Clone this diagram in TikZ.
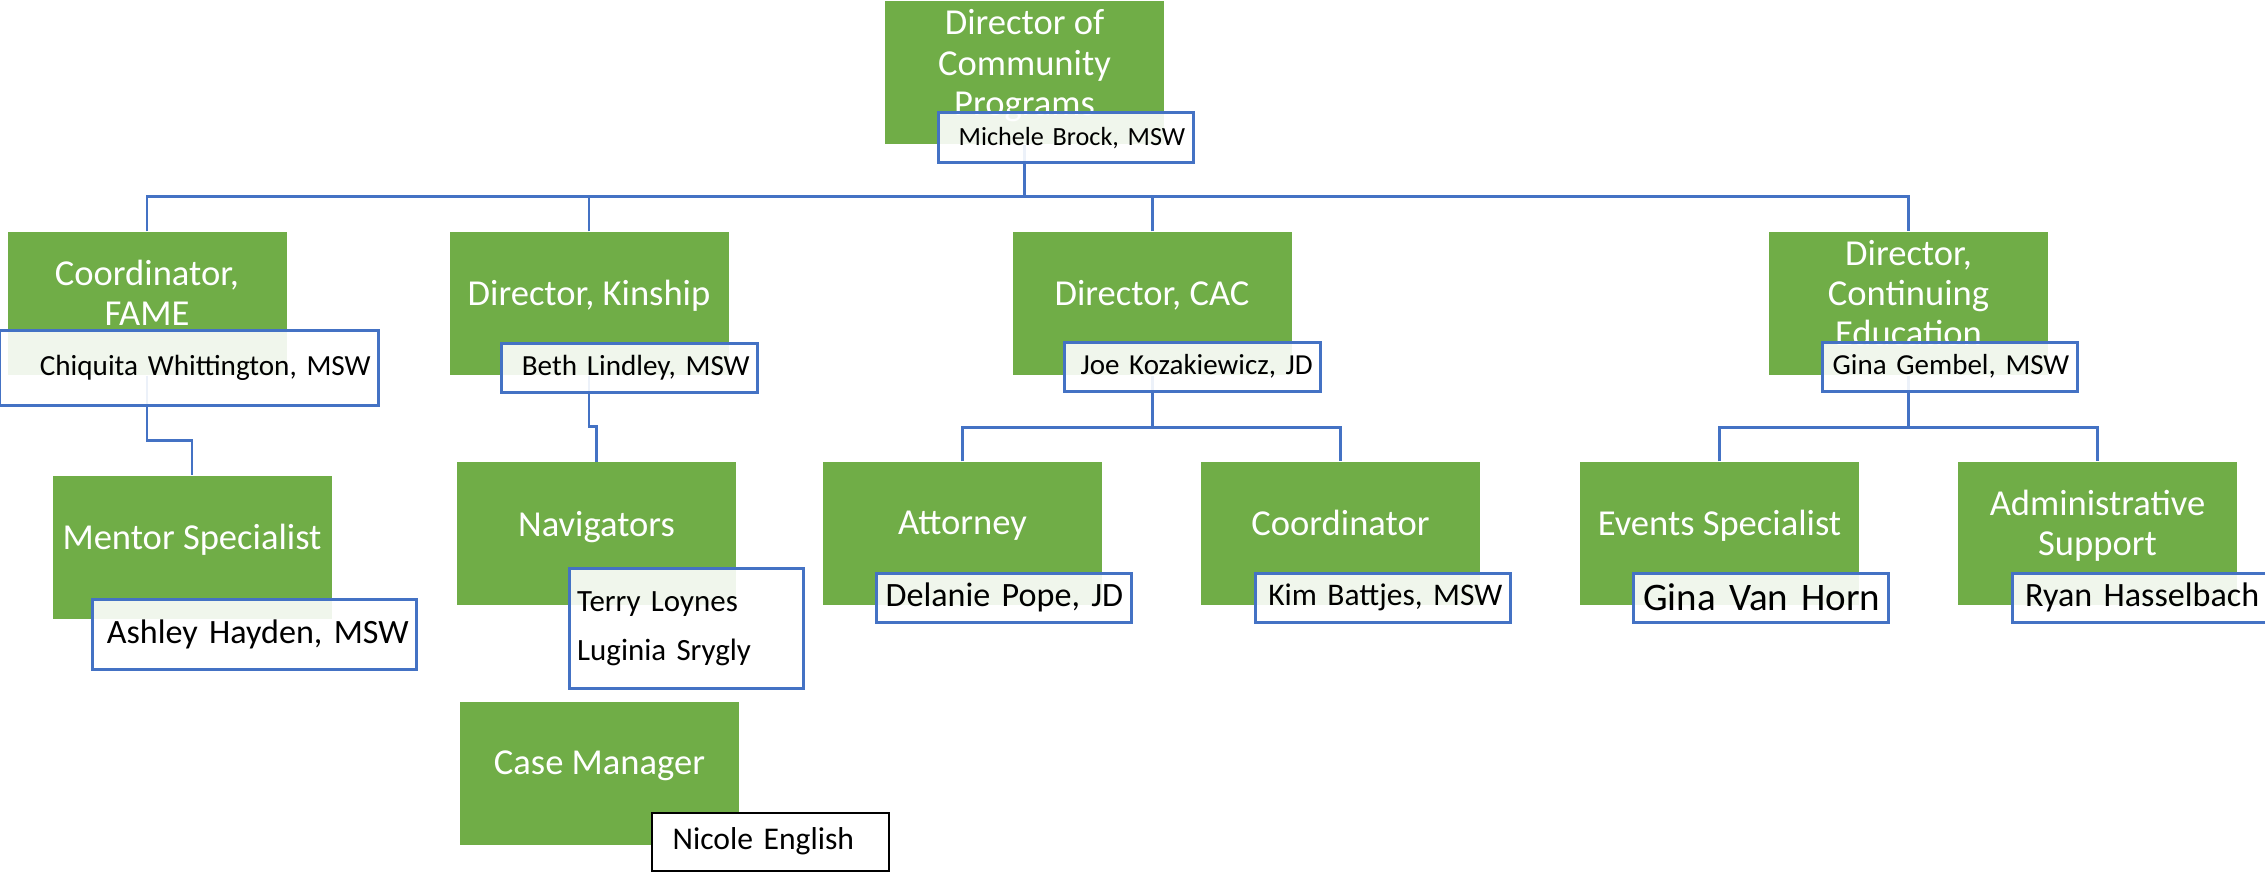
\documentclass[tikz,border=0pt]{standalone}
\usepackage{fontspec}
\setmainfont{Carlito}
\usetikzlibrary{positioning,calc,backgrounds}

\definecolor{boxgreen}{HTML}{70AD47}
\definecolor{lineblue}{HTML}{4472C4}

\tikzset{
  role/.style={fill=boxgreen, text=white, minimum width=2.79cm, minimum height=1.43cm,
    inner sep=0pt, align=center, font=\fontsize{10.4}{11.4}\selectfont, text depth=0.6em},
  namebox/.style={draw=lineblue, line width=0.85pt, fill=white, fill opacity=0.9, text opacity=1,
    inner xsep=0.08cm, inner ysep=0pt, align=right, anchor=south east, text=black},
  nm/.style={font=\fontsize{#1}{#1}\selectfont},
  link/.style={draw=lineblue, line width=0.85pt}
}

\begin{document}
\begin{tikzpicture}
\useasboundingbox (0,0) rectangle (22.65,8.72);

% roles
\node[role] (dcp) at (10.245,7.99) {Director of\\Community\\Programs};
\node[role] (fame) at (1.47,5.685) {Coordinator,\\FAME};
\node[role] (kin) at (5.89,5.685) {Director, Kinship};
\node[role] (cac) at (11.52,5.685) {Director, CAC};
\node[role] (ce) at (19.085,5.685) {Director,\\Continuing\\Education};
\node[role] (mentor) at (1.92,3.245) {Mentor Specialist};
\node[role] (nav) at (5.965,3.38) {Navigators};
\node[role] (cm) at (5.995,0.985) {Case Manager};
\node[role] (att) at (9.625,3.385) {Attorney};
\node[role] (coord) at (13.405,3.385) {Coordinator};
\node[role] (ev) at (17.195,3.385) {Events Specialist};
\node[role] (adm) at (20.975,3.385) {Administrative\\Support};

% names
\node[namebox, nm=7.45, text width=2.39cm, minimum height=0.50cm] (michele) at ([shift={(0.30,-0.19)}]dcp.south east) {Michele Brock, MSW};
\node[namebox, nm=8.3, text width=3.63cm, minimum height=0.75cm] (chiquita) at ([shift={(0.93,-0.31)}]fame.south east) {Chiquita Whittington, MSW};
\node[namebox, nm=9.7, text width=3.08cm, minimum height=0.70cm] (ashley) at ([shift={(0.86,-0.51)}]mentor.south east) {Ashley Hayden, MSW};
\node[namebox, nm=8.3, text width=2.40cm, minimum height=0.49cm] (beth) at ([shift={(0.30,-0.18)}]kin.south east) {Beth Lindley, MSW};
\node[namebox, align=left, font=\fontsize{8.8}{13.9}\selectfont, text width=2.18cm, minimum height=1.20cm] (navnames) at ([shift={(0.68,-0.84)}]nav.south east) {Terry Loynes\\Luginia Srygly};
\node[namebox, draw=black, line width=0.6pt, fill opacity=1, inner xsep=0.21cm, align=left, nm=9.0, text width=1.95cm, minimum height=0.58cm] (nicole) at ([shift={(1.50,-0.26)}]cm.south east) {Nicole English};
\node[namebox, nm=8.25, text width=2.40cm, minimum height=0.49cm] (joe) at ([shift={(0.30,-0.17)}]cac.south east) {Joe Kozakiewicz, JD};
\node[namebox, nm=9.7, text width=2.39cm, minimum height=0.49cm] (delanie) at ([shift={(0.30,-0.18)}]att.south east) {Delanie Pope, JD};
\node[namebox, nm=8.95, text width=2.39cm, minimum height=0.49cm] (kim) at ([shift={(0.31,-0.18)}]coord.south east) {Kim Battjes, MSW};
\node[namebox, nm=8.25, text width=2.39cm, minimum height=0.49cm] (gembel) at ([shift={(0.30,-0.17)}]ce.south east) {Gina Gembel, MSW};
\node[namebox, nm=11.1, text width=2.39cm, minimum height=0.49cm] (gvh) at ([shift={(0.30,-0.18)}]ev.south east) {Gina Van Horn};
\node[namebox, nm=9.7, text width=2.39cm, minimum height=0.49cm] (ryan) at ([shift={(0.31,-0.18)}]adm.south east) {Ryan Hasselbach};

% connectors
\begin{scope}[on background layer]
\fill[white] (0,0) rectangle (22.65,8.72);
\draw[link] (dcp.south) -- ++(0,-0.51) coordinate (bus);
\draw[link] (fame.north) |- (bus) -| (ce.north);
\draw[link] (kin.north) -- (kin.north |- bus);
\draw[link] (cac.north) -- (cac.north |- bus);
\draw[link] (fame.south) -- ++(0,-0.65) -| (mentor.north);
\draw[link] (kin.south) -- ++(0,-0.51) -| (nav.north);
\draw[link] (cac.south) -- ++(0,-0.52) coordinate (cacbus);
\draw[link] (att.north) |- (cacbus) -| (coord.north);
\draw[link] (ce.south) -- ++(0,-0.52) coordinate (cebus);
\draw[link] (ev.north) |- (cebus) -| (adm.north);
\end{scope}
\end{tikzpicture}
\end{document}
